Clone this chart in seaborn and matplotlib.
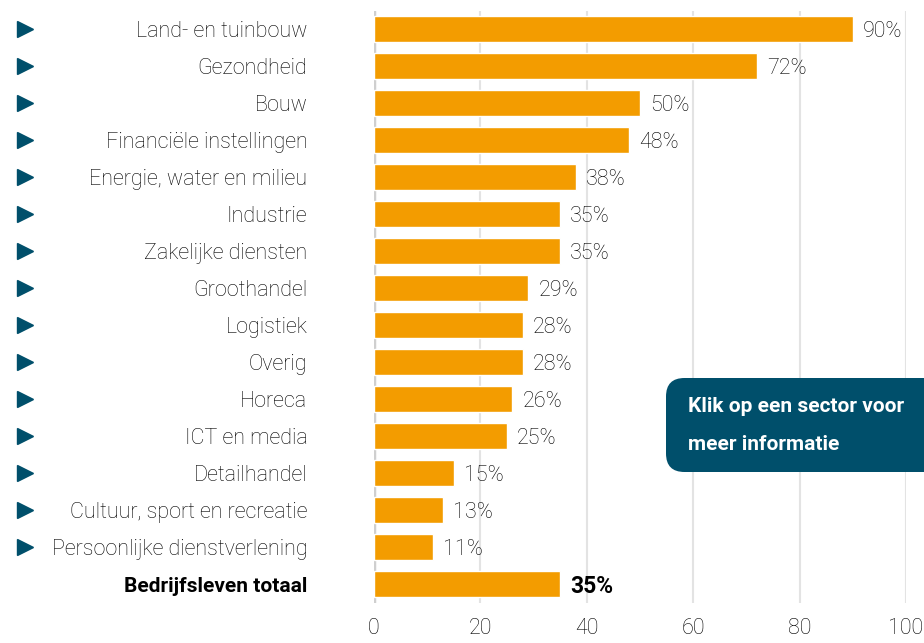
import matplotlib
matplotlib.use("Agg")
import matplotlib.pyplot as plt
import seaborn as sns
import pandas as pd
from matplotlib.patches import FancyBboxPatch
from matplotlib import transforms

categories = ["Land- en tuinbouw", "Gezondheid", "Bouw", "Financiële instellingen",
              "Energie, water en milieu", "Industrie", "Zakelijke diensten", "Groothandel",
              "Logistiek", "Overig", "Horeca", "ICT en media", "Detailhandel",
              "Cultuur, sport en recreatie", "Persoonlijke dienstverlening", "Bedrijfsleven totaal"]
values = [90, 72, 50, 48, 38, 35, 35, 29, 28, 28, 26, 25, 15, 13, 11, 35]
xticks = [0, 20, 40, 60, 80, 100]
button_lines = ["Klik op een sector voor", "meer informatie"]

BAR = "#f39c00"
TEAL = "#004f6b"
TXT = "#000000"
FS = 15.5

sns.set_theme(style="white")
plt.rcParams['font.family'] = ['Roboto', 'DejaVu Sans']

df = pd.DataFrame({"cat": categories, "val": values})

fig = plt.figure(figsize=(9.24, 6.43), dpi=100)
ax = fig.add_axes([374/924, 1-602.5/643, (906-374)/924, (602.5-10.5)/643])
sns.barplot(data=df, x="val", y="cat", orient="h", color=BAR, width=0.7,
            saturation=1, ax=ax, zorder=3)
ax.set_xlim(0, 100)
ax.set_ylim(len(categories)-0.5, -0.5)
ax.set_xlabel("")
ax.set_ylabel("")
ax.set_xticks(xticks)
ax.set_xticklabels([str(t) for t in xticks], fontsize=FS, fontweight='light', color=TXT)
for t in xticks[1:]:
    ax.axvline(t, color="#e3e3e3", lw=1.5, zorder=1)
ax.axvline(0, color="#cfcfcf", lw=2.5, zorder=2)
for s in ax.spines.values():
    s.set_visible(False)
ax.tick_params(axis='y', length=0, pad=48)
ax.tick_params(axis='x', length=0, pad=11)
labels = ax.get_yticklabels()
for i, lab in enumerate(labels):
    lab.set_color(TXT)
    if i == len(labels) - 1:
        lab.set_fontweight('bold')
        lab.set_fontsize(15)
    else:
        lab.set_fontweight('light')
        lab.set_fontsize(FS)

for i, v in enumerate(values):
    last = i == len(values) - 1
    ax.text(v + 1.9, i + 0.06, f"{v}%", va="center", ha="left",
            fontsize=16.5 if last else FS,
            fontweight='bold' if last else 'light',
            color=TXT, zorder=4)

tr = transforms.blended_transform_factory(fig.transFigure, ax.transData)
for i in range(len(categories) - 1):
    ax.plot([25/924], [i], marker=">", markersize=11, color=TEAL, transform=tr,
            clip_on=False, linestyle="none")

box = FancyBboxPatch((666/924, 1-472/643), 300/924, 94/643,
                     boxstyle="round,pad=0,rounding_size=0.02",
                     transform=fig.transFigure, facecolor=TEAL, edgecolor="none",
                     zorder=10, mutation_aspect=924/643)
fig.patches.append(box)
fig.text(688/924, 1-407/643, button_lines[0], color="white", fontsize=15,
         fontweight='bold', va="center", ha="left", zorder=11)
fig.text(688/924, 1-445/643, button_lines[1], color="white", fontsize=15,
         fontweight='bold', va="center", ha="left", zorder=11)

fig.savefig("out.png", dpi=100)
